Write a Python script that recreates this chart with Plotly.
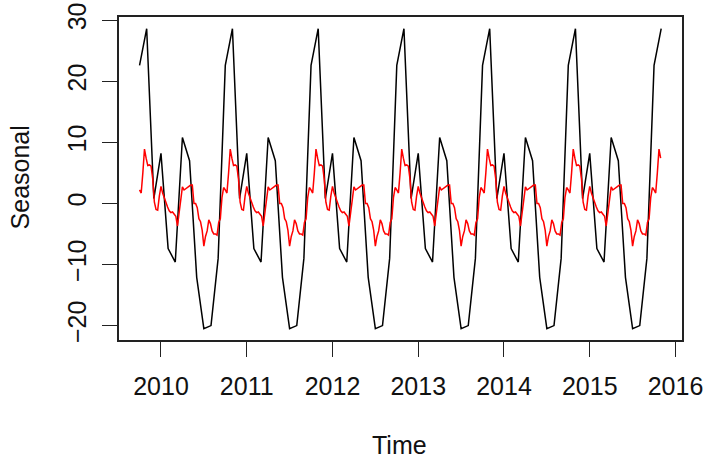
import numpy as np
import plotly.graph_objects as go

# monthly seasonal component, one cycle starting October
monthly_cycle = [22.6, 28.6, 0.8, 8.2, -7.4, -9.6, 10.8, 7.0, -12.1, -20.5, -20.0, -9.0]
monthly_start = 2009.75
n_months = 74

# weekly seasonal component, one cycle (52 weeks) starting first week of October
weekly_cycle = [2.2, 1.7, 5.0, 8.9, 7.4, 6.2, 6.3, 6.1, 4.0, 0.2, -1.0, -1.1, 1.2,
                2.8, 1.7, 0.8, 0.2, -0.6, -1.2, -1.5, -1.4, -1.7, -2.1, -3.7, -1.6,
                0.4, 2.7, 2.2, 2.4, 2.7, 2.8, 3.0, 3.0, 0.0, 0.0, -0.7, -2.5, -3.0,
                -4.4, -7.0, -5.4, -4.5, -2.7, -3.3, -4.5, -5.0, -5.0, -5.2, -3.1,
                -2.5, 1.0, 2.6]
weekly_start = 2009.75
n_weeks = 317

year_ticks = [2010, 2011, 2012, 2013, 2014, 2015, 2016]
value_ticks = [-20, -10, 0, 10, 20, 30]

# the seasonal component repeats its cycle every year
t_month = monthly_start + np.arange(n_months) / 12
s_month = np.resize(monthly_cycle, n_months)
t_week = weekly_start + np.arange(n_weeks) / 52
s_week = np.resize(weekly_cycle, n_weeks)

fig = go.Figure()
fig.add_trace(go.Scatter(x=t_month, y=s_month, mode='lines',
                         line=dict(color='black', width=1.5), showlegend=False))
fig.add_trace(go.Scatter(x=t_week, y=s_week, mode='lines',
                         line=dict(color='red', width=1.5), showlegend=False))

font = dict(family='Liberation Sans, Arial, sans-serif', size=25, color='#111111')
fig.update_layout(
    width=708, height=459,
    margin=dict(l=119, r=26, t=17, b=119, autoexpand=False),
    paper_bgcolor='white', plot_bgcolor='white',
    font=font,
    annotations=[
        dict(text='Time', x=0.499, y=-0.325, xref='paper', yref='paper',
             showarrow=False, xanchor='center', yanchor='middle', font=font),
        dict(text='Seasonal', x=-0.176, y=0.503, xref='paper', yref='paper',
             showarrow=False, textangle=-90, xanchor='center', yanchor='middle', font=font),
    ],
)
fig.update_xaxes(range=[2009.5105, 2016.076], tickvals=year_ticks, automargin=False,
                 ticks='outside', ticklen=15, tickwidth=1.3, tickcolor='#222222',
                 showline=True, mirror=True, linecolor='#222222', linewidth=1.5,
                 showgrid=False, zeroline=False, ticklabelstandoff=8)
fig.update_yaxes(range=[-22.36, 30.52], tickvals=value_ticks, tickangle=-90, automargin=False,
                 ticks='outside', ticklen=15, tickwidth=1.3, tickcolor='#222222',
                 showline=True, mirror=True, linecolor='#222222', linewidth=1.5,
                 showgrid=False, zeroline=False, ticklabelstandoff=6)

# drop the page's default body margin so the figure sits at the window corner
fig.write_html("out.html", config={'displayModeBar': False},
               post_script="document.body.style.margin='0';document.body.style.overflow='hidden';")
